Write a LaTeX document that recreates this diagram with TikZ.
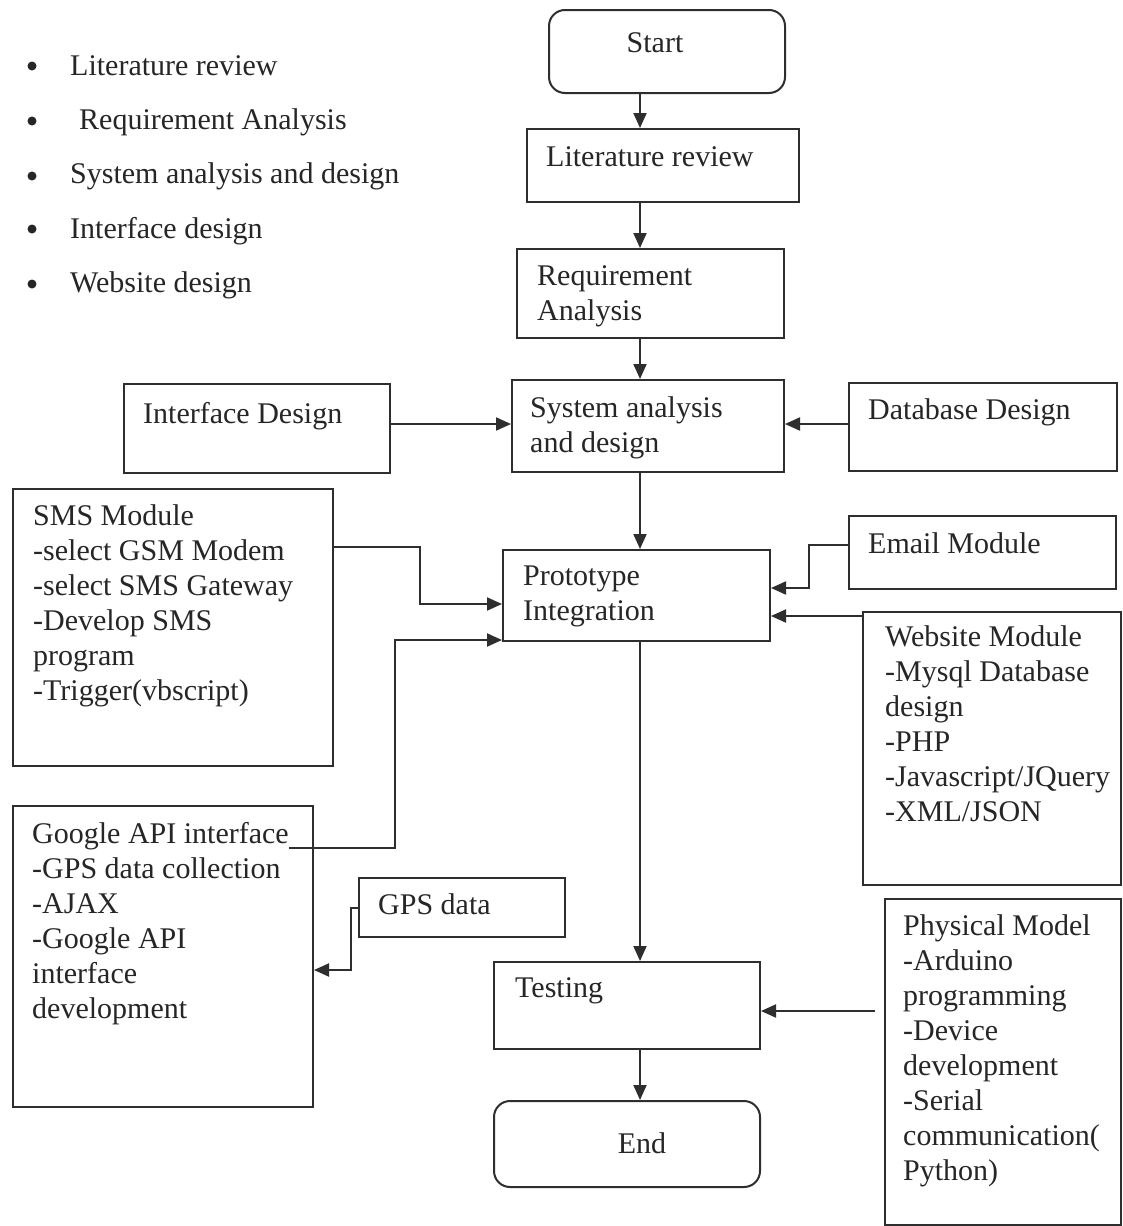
\documentclass[tikz,border=0pt]{standalone}
\usepackage{fontspec}
\setmainfont{Liberation Serif}
\usetikzlibrary{arrows.meta}
\definecolor{ink}{HTML}{2E2E2E}
\definecolor{txtc}{HTML}{262626}
% multi-line text whose baseline is that of its first line
\newcommand\stack[1]{\begin{tabular}[t]{@{}l@{}}#1\end{tabular}}
\begin{document}
\begin{tikzpicture}[x=1pt,y=-1pt,
  box/.style={draw=ink, line width=2pt, inner sep=0pt, anchor=north west},
  term/.style={box, rounded corners=16pt},
  txt/.style={inner sep=0pt, text=txtc, font=\fontsize{30}{35}\selectfont},
  arr/.style={draw=ink, line width=2pt, -{Triangle[length=15pt,width=13pt]}},
  dot/.style={fill=txtc},
]
\useasboundingbox[fill=white] (0,0) rectangle (1123,1226);

% bullet list of project phases
\node[txt, anchor=base west] (phases) at (70,75) {\def\arraystretch{1.557}%
  \begin{tabular}[t]{@{}l@{}}
  Literature review\\
  \hspace{9pt}Requirement Analysis\\
  System analysis and design\\
  Interface design\\
  Website design
  \end{tabular}};
\foreach \y in {66,121,176,229,284}
  \fill[dot] (32,\y) circle (4.5);

% boxes
\node[term, minimum width=236pt, minimum height=83pt] (start) at (548,9) {};
\node[box, minimum width=272pt, minimum height=73pt] (lit) at (526,128) {};
\node[box, minimum width=267pt, minimum height=89pt] (req) at (516,248) {};
\node[box, minimum width=272pt, minimum height=92pt] (sys) at (511,379) {};
\node[box, minimum width=266pt, minimum height=89pt] (iface) at (123,383) {};
\node[box, minimum width=268pt, minimum height=88pt] (db) at (848,382) {};
\node[box, minimum width=320pt, minimum height=277pt] (sms) at (12,488) {};
\node[box, minimum width=267pt, minimum height=91pt] (proto) at (502,549) {};
\node[box, minimum width=267pt, minimum height=73pt] (email) at (848,515) {};
\node[box, minimum width=258pt, minimum height=273pt] (web) at (862,611) {};
\node[box, minimum width=300pt, minimum height=301pt] (google) at (12,805) {};
\node[box, minimum width=206pt, minimum height=59pt] (gps) at (358,877) {};
\node[box, minimum width=266pt, minimum height=87pt] (test) at (493,961) {};
\node[term, minimum width=266pt, minimum height=86pt] (end) at (493,1100) {};
\node[box, minimum width=236pt, minimum height=326pt] (phys) at (884,898) {};

% box texts
\node[txt, anchor=base] (start-t) at (655,52) {Start};
\node[txt, anchor=base west] (lit-t) at (546,166) {Literature review};
\node[txt, anchor=base west] (req-t) at (537,285) {\stack{Requirement\\Analysis}};
\node[txt, anchor=base west] (sys-t) at (530,417) {\stack{System analysis\\and design}};
\node[txt, anchor=base west] (iface-t) at (143,423) {Interface Design};
\node[txt, anchor=base west] (db-t) at (868,419) {Database Design};
\node[txt, anchor=base west] (sms-t) at (33,525) {\stack{SMS Module\\-select GSM Modem\\-select SMS Gateway\\-Develop SMS\\program\\-Trigger(vbscript)}};
\node[txt, anchor=base west] (proto-t) at (523,585) {\stack{Prototype\\Integration}};
\node[txt, anchor=base west] (email-t) at (868,553) {Email Module};
\node[txt, anchor=base west] (web-t) at (885,646) {\stack{Website Module\\-Mysql Database\\design\\-PHP\\-Javascript/JQuery\\-XML/JSON}};
\node[txt, anchor=base west] (google-t) at (32,843) {\stack{Google API interface\\-GPS data collection\\-AJAX\\-Google API\\interface\\development}};
\node[txt, anchor=base west] (gps-t) at (378,914) {GPS data};
\node[txt, anchor=base west] (test-t) at (515,997) {Testing};
\node[txt, anchor=base] (end-t) at (642,1153) {End};
\node[txt, anchor=base west] (phys-t) at (903,935) {\stack{Physical Model\\-Arduino\\programming\\-Device\\development\\-Serial\\communication(\\Python)}};

% main flow along the central spine
\coordinate (spine) at (640,0);
\draw[arr] (start.south -| spine) -- (lit.north -| spine);
\draw[arr] (lit.south -| spine) -- (req.north -| spine);
\draw[arr] (req.south -| spine) -- (sys.north -| spine);
\draw[arr] (sys.south -| spine) -- (proto.north -| spine);
\draw[arr] (proto.south -| spine) -- (test.north -| spine);
\draw[arr] (test.south -| spine) -- (end.north -| spine);

% design inputs
\coordinate (ifaceout) at ([yshift=4.5pt]iface.east);
\draw[arr] (ifaceout) -- (ifaceout -| sys.west);
\coordinate (dbout) at ([yshift=3pt]db.west);
\draw[arr] (dbout) -- (dbout -| sys.east);

% module inputs to the prototype
\coordinate (smsout) at ([yshift=-59pt]sms.north east);
\coordinate (smsin) at ([yshift=-55pt]proto.north west);
\draw[arr] (smsout) -- ++(86,0) |- (smsin);
\coordinate (googleout) at ([xshift=-25pt,yshift=-43pt]google.north east);
\coordinate (googlein) at ([yshift=2pt]proto.south west);
\draw[arr] (googleout) -- ++(106,0) |- (googlein);
\coordinate (emailout) at ([yshift=7.5pt]email.west);
\coordinate (emailin) at ([yshift=-39pt]proto.north east);
\draw[arr] (emailout) -- ++(-39,0) |- (emailin);
\coordinate (webout) at ([yshift=-5pt]web.north west);
\draw[arr] (webout) -- (webout -| proto.east);

% GPS data feeds the Google API interface
\coordinate (gpsin) at ([yshift=-13.5pt]google.east);
\draw[arr] (gps.west) -- ++(-7,0) |- (gpsin);

% physical model feeds testing
\coordinate (physout) at ([xshift=-9pt,yshift=-113pt]phys.north west);
\draw[arr] (physout) -- (physout -| test.east);
\end{tikzpicture}
\end{document}
